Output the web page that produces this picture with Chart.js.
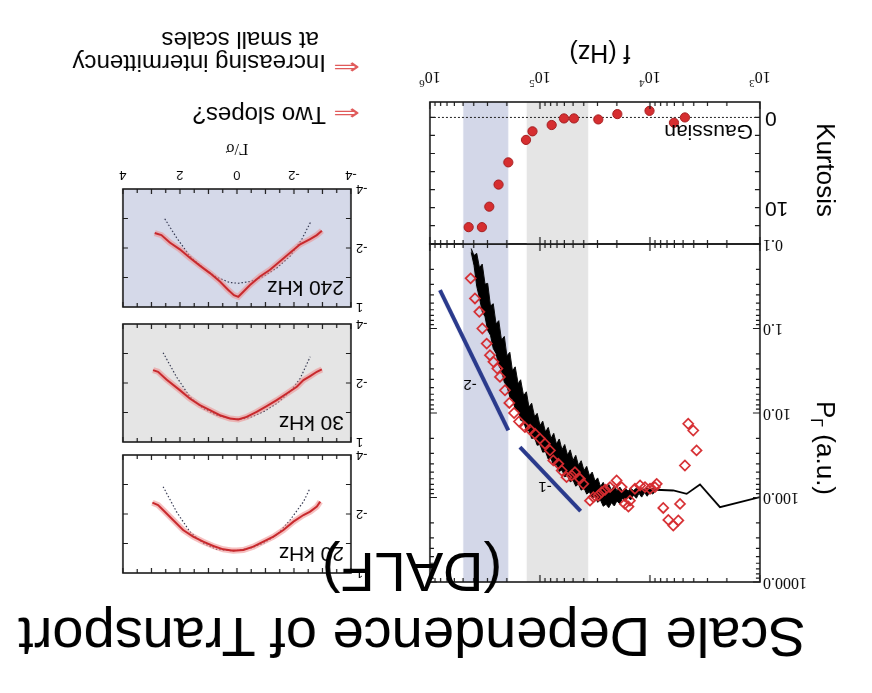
<!DOCTYPE html>
<html>
<head>
<meta charset="utf-8">
<title>Scale Dependence of Transport (DALF)</title>
<script src="https://cdn.jsdelivr.net/npm/chart.js@4.4.1/dist/chart.umd.min.js"></script>
<style>
  html, body { margin: 0; padding: 0; background: #ffffff; }
  #fig { position: absolute; left: 0; top: 0; width: 872px; height: 693px; overflow: hidden;
         background: #ffffff; transform: rotate(180deg); transform-origin: 50% 50%;
         font-family: "Liberation Sans", Arial, Helvetica, sans-serif; color: #000; }
  #fig canvas { position: absolute; }
  .txt { position: absolute; white-space: nowrap; line-height: 1; }
  .arrow { position: absolute; font-family: "DejaVu Sans", sans-serif; color: #e05a5a;
           line-height: 1; transform-origin: 0 50%; }
</style>
</head>
<body>
<div id="fig">
  <canvas id="spectrum"></canvas>
  <canvas id="kurtosis"></canvas>
  <canvas id="pdf20"></canvas>
  <canvas id="pdf30"></canvas>
  <canvas id="pdf240"></canvas>
  <div class="txt" style="left:0; width:920px; text-align:center; top:28px; font-size:56px;">Scale Dependence of Transport</div>
  <div class="txt" style="left:0; width:920px; text-align:center; top:93px; font-size:56px;">(DALF)</div>
  <div class="arrow" style="left:512px; top:569px; font-size:22px; transform:scaleX(1.45);">&#8656;</div>
  <div class="txt" style="left:546px; top:566px; font-size:24px;">Two slopes?</div>
  <div class="arrow" style="left:512px; top:615px; font-size:22px; transform:scaleX(1.45);">&#8656;</div>
  <div class="txt" style="left:546px; top:618px; font-size:24px;">Increasing intermittency</div>
  <div class="txt" style="left:553px; top:641px; font-size:24px;">at small scales</div>
</div>
<script>
// ---- spectrum of the flux, P_Gamma(f) ----
// noisy high-frequency part: upper and lower edges of the black trace
const specF = [4.22e5, 3.98e5, 3.76e5, 3.55e5, 3.35e5, 3.16e5, 2.99e5, 2.82e5, 2.66e5, 2.51e5,
               2.37e5, 2.24e5, 2.11e5, 2.00e5, 1.88e5, 1.78e5, 1.68e5, 1.58e5, 1.50e5, 1.41e5,
               1.33e5, 1.26e5, 1.19e5, 1.12e5, 1.06e5, 1.00e5, 9.44e4, 8.91e4, 8.41e4, 7.94e4,
               7.50e4, 7.08e4, 6.68e4, 6.31e4, 5.96e4, 5.62e4, 5.31e4, 5.01e4, 4.73e4, 4.47e4,
               4.22e4, 3.98e4, 3.76e4, 3.55e4, 3.35e4, 3.16e4, 2.99e4, 2.82e4, 2.66e4, 2.51e4,
               2.37e4, 2.24e4, 2.11e4, 2.00e4, 1.88e4, 1.78e4, 1.68e4, 1.58e4, 1.50e4, 1.41e4,
               1.33e4, 1.26e4, 1.19e4, 1.12e4, 1.06e4, 1.00e4, 9.44e3, 8.91e3];
const specUpper = [0.126, 0.178, 0.316, 0.437, 0.631, 0.724, 1.05, 1.20, 1.72, 1.97,
                   2.75, 3.11, 4.33, 4.78, 6.46, 6.92, 9.02, 9.33, 12.2, 12.6,
                   16.0, 16.2, 20.0, 19.6, 24.1, 23.6, 29.1, 28.5, 35.2, 34.4,
                   42.0, 40.6, 49.1, 47.1, 56.9, 54.7, 65.3, 62.1, 73.5, 69.2,
                   81.8, 77.1, 91.2, 85.7, 102, 95.7, 114, 107, 127, 120,
                   132, 115, 126, 110, 119, 102, 112, 97.7, 107, 93.3,
                   102, 89.1, 98.9, 87.1, 96.6, 85.1, 91.2, 83.2];
const specLower = [0.113, 0.137, 0.129, 0.191, 0.173, 0.299, 0.292, 0.542, 0.509, 0.883,
                   0.807, 1.37, 1.24, 2.11, 1.91, 3.18, 2.84, 4.52, 4.04, 6.25,
                   5.61, 8.51, 7.66, 11.1, 10.1, 14.1, 12.5, 16.8, 14.8, 20.0,
                   17.4, 23.4, 20.3, 27.2, 23.6, 31.6, 27.3, 36.4, 31.7, 41.8,
                   36.7, 48.0, 42.8, 55.2, 50.0, 64.0, 58.6, 74.1, 66.1, 80.9,
                   69.8, 81.8, 72.3, 83.2, 75.2, 83.9, 77.1, 84.1, 77.6, 82.8,
                   77.4, 81.7, 77.3, 81.1, 77.1, 80.5, 78.3, 80.5];
// low-frequency part of the trace
const specLowF = [8.91e3, 6.14e3, 4.64e3, 3.51e3, 2.31e3, 1.0e3];
const specLowP = [81, 82.6, 90.6, 70.2, 130, 99];

// second estimate (open diamonds)
const diamondF = [4.27e5, 3.90e5, 3.56e5, 3.34e5, 3.05e5, 2.85e5, 2.65e5, 2.44e5, 2.31e5, 2.08e5,
                  1.90e5, 1.72e5, 1.55e5, 1.37e5, 1.23e5, 1.11e5, 1.0e5, 9.02e4, 8.11e4, 7.57e4,
                  6.81e4, 6.35e4, 5.73e4, 5.15e4, 4.81e4, 4.33e4, 4.04e4, 3.51e4, 3.27e4, 2.95e4,
                  2.75e4, 2.56e4, 2.31e4, 2.01e4, 1.81e4, 1.69e4, 1.57e4, 1.52e4, 1.37e4, 1.23e4,
                  1.11e4, 1.0e4, 9.02e3, 8.69e3, 7.57e3, 6.81e3, 6.14e3, 5.52e3, 5.33e3, 4.81e3,
                  3.77e3, 4.04e3, 4.49e3];
const diamondP = [0.255, 0.441, 0.634, 1.0, 1.51, 2.07, 2.48, 2.98, 3.74, 5.38,
                  7.60, 10.0, 12.6, 14.7, 15.8, 17.6, 20.1, 23.1, 27.7, 36.4,
                  39.9, 47.9, 57.4, 54.8, 50.1, 60.1, 68.9, 109, 99, 94.6,
                  86.5, 81.1, 75.3, 62.8, 75.3, 119, 128, 109, 78.9, 72.1,
                  75.3, 78.9, 75.3, 68.9, 133, 184, 215, 187, 119, 41.8,
                  27.7, 16.1, 13.4];

// reference slopes
const slopeTwoF = [8.11e5, 1.94e5];
const slopeTwoP = [0.351, 16.1];
const slopeOneF = [1.52e5, 4.27e4];
const slopeOneP = [25.3, 145];
const slopeLabels = ['-2', '-1'];
const slopeLabelF = [4.33e5, 9.0e4];
const slopeLabelP = [4.5, 74];

// frequency windows of the lower panels
const bandGray = [3.64e4, 1.32e5];
const bandBlue = [1.94e5, 4.98e5];

// ---- kurtosis of the flux vs frequency ----
const kurtF = [4.81e3, 6.05e3, 1.01e4, 1.98e4, 2.95e4, 4.91e4, 6.05e4, 7.83e4, 1.17e5, 1.34e5,
               1.94e5, 2.38e5, 2.89e5, 3.37e5, 4.45e5];
const kurtK = [0.0, 0.59, -0.73, -0.37, 0.22, 0.11, 0.11, 0.84, 1.54, 2.49,
               4.98, 7.44, 9.89, 12.16, 12.16];
const gaussLevelF = [1e3, 1e6];
const gaussLevelK = [0, 0];

// ---- PDFs of Gamma/sigma (log10 of the PDF) ----
const pdf20V   = [2.968, 2.768, 2.592, 2.241, 1.889, 1.537, 1.185, 0.833, 0.481, 0.129,
                  -0.223, -0.575, -0.927, -1.279, -1.630, -1.982, -2.334, -2.569, -2.803, -2.921];
const pdf20L   = [-2.384, -2.305, -2.136, -1.797, -1.458, -1.232, -1.062, -0.915, -0.802, -0.757,
                  -0.780, -0.893, -1.062, -1.232, -1.458, -1.740, -1.966, -2.079, -2.249, -2.418];
const gauss20V = [2.592, 2.123, 1.654, 1.185, 0.716, 0.129, -0.457, -0.927, -1.396, -1.865, -2.334, -2.545];
const gauss20L = [-2.927, -2.079, -1.401, -1.006, -0.802, -0.746, -0.836, -1.006, -1.288, -1.797, -2.418, -2.836];

const pdf30V   = [2.944, 2.768, 2.475, 2.006, 1.654, 1.302, 0.950, 0.598, 0.246, -0.047,
                  -0.340, -0.692, -1.044, -1.396, -1.748, -2.100, -2.334, -2.569, -2.803, -2.979];
const pdf30L   = [-2.437, -2.381, -2.120, -1.758, -1.475, -1.248, -1.078, -0.908, -0.795, -0.761,
                  -0.852, -1.022, -1.214, -1.418, -1.644, -1.871, -2.097, -2.233, -2.381, -2.460];
const gauss30V = [2.592, 2.123, 1.654, 1.185, 0.716, 0.246, -0.047, -0.457, -0.926, -1.396, -1.865, -2.217, -2.569];
const gauss30L = [-3.026, -2.211, -1.531, -1.135, -0.908, -0.795, -0.761, -0.829, -1.022, -1.305, -1.701, -2.154, -2.890];

const pdf240V   = [2.886, 2.651, 2.358, 2.006, 1.654, 1.302, 0.950, 0.598, 0.305, 0.106, -0.047,
                   -0.223, -0.457, -0.809, -1.161, -1.513, -1.865, -2.217, -2.569, -2.803, -2.979];
const pdf240L   = [-2.506, -2.437, -2.184, -1.954, -1.667, -1.402, -1.149, -0.862, -0.575, -0.402, -0.345,
                   -0.517, -0.747, -1.034, -1.264, -1.552, -1.839, -2.126, -2.299, -2.437, -2.586];
const gauss240V = [2.534, 2.123, 1.654, 1.185, 0.716, 0.246, -0.047, -0.457, -0.926, -1.396, -1.865, -2.276, -2.592];
const gauss240L = [-2.989, -2.356, -1.724, -1.322, -1.011, -0.828, -0.805, -0.862, -1.034, -1.322, -1.724, -2.299, -2.897];

// ---- tick labels ----
const freqTickValues  = [1e3, 1e4, 1e5, 1e6];
const freqTickExp     = ['3', '4', '5', '6'];
const powerTickValues = [0.1, 1, 10, 100, 1000];
const powerTickLabels = ['0.1', '1.0', '10.0', '100.0', '1000.0'];
const kurtTickValues  = [0, 10];
const kurtTickLabels  = ['0', '10'];
const pdfXTickValues  = [-4, -2, 0, 2, 4];
const pdfXTickLabels  = ['-4', '-2', '0', '2', '4'];
const pdfYTickValues  = [0, -2, -4];
const pdfYTickLabels  = ['1', '-2', '-4'];
const panelNames      = ['20 kHz', '30 kHz', '240 kHz'];

// ---- colours ----
const RED = 'rgb(214,44,48)';
const RED_HALO = 'rgba(238,140,140,0.55)';
const NAVY = 'rgb(42,58,140)';
const BLUE_BAND = 'rgb(211,215,232)';
const GRAY_BAND = 'rgb(229,229,229)';
const SANS = '"Liberation Sans", Arial, sans-serif';
const SERIF = '"Liberation Serif", "Times New Roman", serif';

const toXY = (xs, ys) => xs.map((x, i) => ({ x: x, y: ys[i] }));

function logTicks(lo, hi, majorLen, minorLen) {
  const out = [];
  for (let d = Math.round(Math.log10(lo)); d < Math.round(Math.log10(hi)); d++) {
    for (let m = 1; m <= 9; m++) out.push({ v: m * Math.pow(10, d), len: m === 1 ? majorLen : minorLen });
  }
  out.push({ v: hi, len: majorLen });
  return out;
}
function stepTicks(lo, hi, step, len, majorEvery, majorLen) {
  const out = [];
  for (let v = lo; v <= hi + 1e-9; v += step) {
    const major = majorEvery && Math.abs(v / majorEvery - Math.round(v / majorEvery)) < 1e-6;
    out.push({ v: v, len: major ? majorLen : len });
  }
  return out;
}

// frames, ticks, bands and lettering of each panel
const frameCfg = {};
function drawParts(ctx, item, x, y) {
  ctx.save();
  ctx.translate(x, y);
  if (item.rot) ctx.rotate(item.rot * Math.PI / 180);
  const parts = item.parts || [{ t: item.text }];
  const fonts = parts.map(p => (p.sub || p.sup) ? item.smallFont : item.font);
  let total = 0;
  const widths = parts.map((p, i) => { ctx.font = fonts[i]; const w = ctx.measureText(p.t).width; total += w; return w; });
  let cx = item.align === 'center' ? -total / 2 : item.align === 'right' ? -total : 0;
  ctx.fillStyle = item.color || '#000';
  ctx.textBaseline = item.baseline || 'alphabetic';
  ctx.textAlign = 'left';
  parts.forEach((p, i) => {
    ctx.font = fonts[i];
    const dy = p.sub ? (item.subDy || 0) : p.sup ? -(item.supDy || 0) : 0;
    ctx.fillText(p.t, cx, dy);
    cx += widths[i];
  });
  ctx.restore();
}
const framePlugin = {
  id: 'panelFrame',
  beforeDatasetsDraw(chart) {
    const o = frameCfg[chart.canvas.id];
    if (!o) return;
    const { ctx, chartArea: a } = chart;
    const sx = chart.scales.x;
    ctx.save();
    if (o.background) { ctx.fillStyle = o.background; ctx.fillRect(a.left, a.top, a.width, a.height); }
    (o.bands || []).forEach(b => {
      const p0 = sx.getPixelForValue(b.from), p1 = sx.getPixelForValue(b.to);
      ctx.fillStyle = b.color;
      ctx.fillRect(Math.min(p0, p1), a.top, Math.abs(p1 - p0), a.height);
    });
    ctx.restore();
  },
  afterDatasetsDraw(chart) {
    const o = frameCfg[chart.canvas.id];
    if (!o) return;
    const { ctx, chartArea: a } = chart;
    const sx = chart.scales.x, sy = chart.scales.y;
    ctx.save();
    ctx.strokeStyle = '#1c1c1c';
    ctx.lineWidth = 1.2;
    ctx.beginPath();
    (o.xTicks || []).forEach(t => {
      const p = sx.getPixelForValue(t.v);
      ctx.moveTo(p, a.bottom); ctx.lineTo(p, a.bottom - t.len);
      ctx.moveTo(p, a.top); ctx.lineTo(p, a.top + t.len);
    });
    (o.yTicks || []).forEach(t => {
      const p = sy.getPixelForValue(t.v);
      ctx.moveTo(a.left, p); ctx.lineTo(a.left + t.len, p);
      ctx.moveTo(a.right, p); ctx.lineTo(a.right - t.len, p);
    });
    ctx.stroke();
    ctx.lineWidth = 1.6;
    ctx.strokeRect(a.left, a.top, a.width, a.height);
    (o.texts || []).forEach(item => {
      let x = item.figX !== undefined ? item.figX - o.box.left : 0;
      let y = item.figY !== undefined ? item.figY - o.box.top : 0;
      if (item.dataX !== undefined) x = sx.getPixelForValue(item.dataX);
      if (item.dataY !== undefined) y = sy.getPixelForValue(item.dataY);
      drawParts(ctx, item, x, y);
    });
    ctx.restore();
  }
};
Chart.register(framePlugin);

function makeChart(id, box, area, datasets, scales, frame) {
  const cv = document.getElementById(id);
  cv.width = box.width; cv.height = box.height;
  cv.style.left = box.left + 'px'; cv.style.top = box.top + 'px';
  cv.style.width = box.width + 'px'; cv.style.height = box.height + 'px';
  frame.box = box;
  frameCfg[id] = frame;
  return new Chart(cv, {
    type: 'line',
    data: { datasets: datasets },
    options: {
      responsive: false, animation: false, events: [], devicePixelRatio: 1,
      layout: { padding: { left: area.x0 - box.left, top: area.y0 - box.top,
                           right: box.left + box.width - area.x1, bottom: box.top + box.height - area.y1 } },
      plugins: { legend: { display: false }, tooltip: { enabled: false } },
      elements: { line: { tension: 0 }, point: { radius: 0 } },
      scales: scales
    }
  });
}

// ---------- main panel: spectrum ----------
const specBox = { left: 0, top: 80, width: 470, height: 380 };
const specArea = { x0: 112, y0: 111, x1: 442, y1: 449 };
makeChart('spectrum', specBox, specArea, [
  { data: toXY(diamondF, diamondP), showLine: false, pointStyle: 'rectRot', pointRadius: 5,
    pointBorderWidth: 1.7, pointBorderColor: RED, pointBackgroundColor: 'rgba(255,255,255,0)', order: 0 },
  { data: toXY(slopeTwoF, slopeTwoP), borderColor: NAVY, borderWidth: 4, borderCapStyle: 'butt', order: 1 },
  { data: toXY(slopeOneF, slopeOneP), borderColor: NAVY, borderWidth: 4, borderCapStyle: 'butt', order: 1 },
  { data: toXY(specF, specUpper), borderColor: '#000', borderWidth: 1, fill: '+1', backgroundColor: '#000', order: 3 },
  { data: toXY(specF, specLower), borderColor: '#000', borderWidth: 1, fill: false, order: 4 },
  { data: toXY(specLowF, specLowP), borderColor: '#000', borderWidth: 1.8, fill: false, order: 5 }
], {
  x: { type: 'logarithmic', min: 1e3, max: 1e6, display: false },
  y: { type: 'logarithmic', min: 0.1, max: 1000, display: false }
}, {
  bands: [{ from: bandGray[0], to: bandGray[1], color: GRAY_BAND },
          { from: bandBlue[0], to: bandBlue[1], color: BLUE_BAND }],
  xTicks: logTicks(1e3, 1e6, 7, 4),
  yTicks: logTicks(0.1, 1000, 7, 4),
  texts: [].concat(
    powerTickValues.map((v, i) => ({ dataY: v, figX: 109, text: powerTickLabels[i], font: '16px ' + SERIF,
                                     align: 'right', baseline: 'middle' })),
    slopeLabels.map((t, i) => ({ dataX: slopeLabelF[i], dataY: slopeLabelP[i], text: t, font: '15px ' + SANS,
                                 align: 'center', baseline: 'middle' })),
    [{ figX: 55, figY: 245, rot: -90, align: 'center', font: '26px ' + SANS, smallFont: '16px ' + SANS, subDy: 6,
       parts: [{ t: 'P' }, { t: '\u0393', sub: true }, { t: ' (a.u.)' }] }]
  )
});

// ---------- kurtosis panel ----------
const kurtBox = { left: 0, top: 440, width: 470, height: 253 };
const kurtArea = { x0: 112, y0: 449, x1: 442, y1: 591 };
makeChart('kurtosis', kurtBox, kurtArea, [
  { data: toXY(kurtF, kurtK), showLine: false, pointStyle: 'circle', pointRadius: 4.6,
    pointBackgroundColor: 'rgb(214,46,48)', pointBorderColor: 'rgb(165,30,32)', pointBorderWidth: 1, order: 0 },
  { data: toXY(gaussLevelF, gaussLevelK), borderColor: '#222', borderWidth: 1, borderDash: [2, 2], order: 1 }
], {
  x: { type: 'logarithmic', min: 1e3, max: 1e6, display: false },
  y: { type: 'linear', min: -1.71, max: 14.03, display: false }
}, {
  bands: [{ from: bandGray[0], to: bandGray[1], color: GRAY_BAND },
          { from: bandBlue[0], to: bandBlue[1], color: BLUE_BAND }],
  xTicks: logTicks(1e3, 1e6, 7, 4),
  yTicks: stepTicks(0, 12, 2, 5),
  texts: [].concat(
    kurtTickValues.map((v, i) => ({ dataY: v, figX: 107, text: kurtTickLabels[i], font: '21px ' + SANS,
                                    align: 'right', baseline: 'middle' })),
    freqTickValues.map((v, i) => ({ dataX: v, figY: 621, align: 'center', font: '16px ' + SERIF,
                                    smallFont: '11px ' + SERIF, supDy: 8,
                                    parts: [{ t: '10' }, { t: freqTickExp[i], sup: true }] })),
    [{ figX: 55, figY: 523, rot: -90, align: 'center', text: 'Kurtosis', font: '26px ' + SANS },
     { figX: 119, figY: 568, align: 'left', text: 'Gaussian', font: '21px ' + SANS },
     { figX: 272, figY: 648, align: 'center', text: 'f (Hz)', font: '25px ' + SANS }]
  )
});

// ---------- PDF panels ----------
function pdfPanel(id, top, name, v, l, gv, gl, background, withXLabels) {
  const box = { left: 470, top: top - 10, width: 300, height: withXLabels ? 190 : 140 };
  const area = { x0: 521, y0: top, x1: 749, y1: top + 118 };
  const texts = pdfYTickValues.map((t, i) => ({ dataY: t, figX: 516, text: pdfYTickLabels[i], font: '13px ' + SANS,
                                                align: 'right', baseline: 'middle' }));
  texts.push({ figX: 528, figY: top + 26, text: name, font: '21px ' + SANS, align: 'left' });
  if (withXLabels) {
    pdfXTickValues.forEach((t, i) => texts.push({ dataX: t, figY: 518, text: pdfXTickLabels[i], font: '13px ' + SANS,
                                                  align: 'center', baseline: 'middle' }));
    texts.push({ figX: 635, figY: 549, text: '\u0393/\u03c3', font: '16px ' + SERIF, align: 'center' });
  }
  makeChart(id, box, area, [
    { data: toXY(v, l), borderColor: 'rgb(200,40,44)', borderWidth: 2, order: 0 },
    { data: toXY(v, l), borderColor: RED_HALO, borderWidth: 6, order: 1 },
    { data: toXY(gv, gl), borderColor: 'rgb(40,44,70)', borderWidth: 1.1, borderDash: [1.5, 2], order: 2 }
  ], {
    x: { type: 'linear', min: -4, max: 4, display: false },
    y: { type: 'linear', min: -4, max: 0, display: false }
  }, {
    background: background,
    xTicks: stepTicks(-4, 4, 0.5, 4, 1, 5),
    yTicks: stepTicks(-3, -1, 1, 5),
    texts: texts
  });
}
pdfPanel('pdf20', 120, panelNames[0], pdf20V, pdf20L, gauss20V, gauss20L, null, false);
pdfPanel('pdf30', 251, panelNames[1], pdf30V, pdf30L, gauss30V, gauss30L, 'rgb(229,229,229)', false);
pdfPanel('pdf240', 386, panelNames[2], pdf240V, pdf240L, gauss240V, gauss240L, 'rgb(213,217,233)', true);
</script>
</body>
</html>
